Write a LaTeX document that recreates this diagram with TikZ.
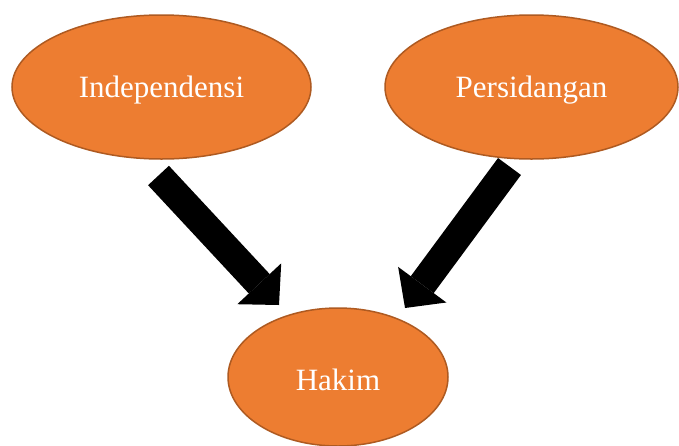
\documentclass[tikz,border=0pt]{standalone}
\usepackage{fontspec}
\setmainfont{Liberation Serif}
\usetikzlibrary{arrows.meta,shapes.geometric}
\definecolor{accorange}{HTML}{ED7D31}
\definecolor{accedge}{HTML}{AE5A21}
\begin{document}
\begin{tikzpicture}[x=1pt,y=-1pt,
  oval/.style={ellipse, fill=accorange, draw=accedge, line width=1.5pt, inner sep=0pt},
  ovallabel/.style={text=white, font=\fontsize{31}{35}\selectfont, inner sep=0pt},
  blockarrow/.style={line width=28.5pt, line cap=butt, black,
    -{Triangle[line width=0pt, width=60pt, length=29pt]}}]
\useasboundingbox (0,0) rectangle (679,445);
\clip (0,0) rectangle (679,445);
\fill[white] (0,0) rectangle (679,445);
\node[oval, minimum width=299pt, minimum height=144pt] (indep) at (161.5,87) {};
\node[oval, minimum width=293pt, minimum height=144pt] (sidang) at (531.5,87) {};
\node[oval, minimum width=220pt, minimum height=138pt] (hakim) at (338,377) {};
\node[ovallabel] (indepT) at ([yshift=-3pt]indep.center) {Independensi};
\node[ovallabel] (sidangT) at ([yshift=-3pt]sidang.center) {Persidangan};
\node[ovallabel] (hakimT) at ([yshift=-3pt]hakim.center) {Hakim};
\coordinate (lt) at (158.5,175.5);
\coordinate (lh) at (279,305);
\coordinate (rt) at (509.5,166.5);
\coordinate (rh) at (405,308);
\draw[blockarrow] (lt) -- (lh);
\draw[blockarrow] (rt) -- (rh);
\end{tikzpicture}
\end{document}
